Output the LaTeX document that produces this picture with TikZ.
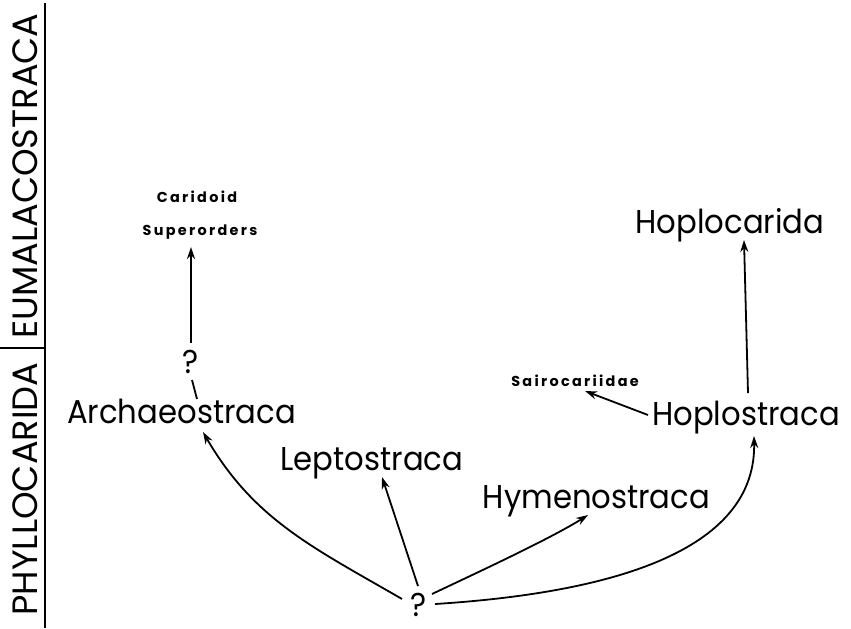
\documentclass[tikz,border=0pt]{standalone}
\usepackage{fontspec}
\setmainfont{Poppins}
\newfontfamily\taxonfont[FakeStretch=0.93]{Poppins}
\newfontfamily\spacedfont[LetterSpace=16]{Poppins}
\usetikzlibrary{arrows.meta,calc}

\begin{document}
\begin{tikzpicture}[x=0.5pt, y=-0.5pt,
        taxon/.style={inner sep=0pt, anchor=base, font=\taxonfont\fontsize{16.5}{18}\selectfont},
        minor/.style={inner sep=0pt, anchor=base, font=\spacedfont\bfseries\fontsize{7.2}{8}\selectfont},
        grade/.style={inner sep=0pt, anchor=base, rotate=90, font=\fontsize{17.6}{18}\selectfont},
        arrow/.style={-{Stealth[length=6pt,width=4pt]}, line width=0.9pt},
        link/.style={line width=0.9pt}
    ]
    \useasboundingbox (0,0) rectangle (851,628);

    % grades along the left edge
    \node[grade] (phyllo) at (37,489) {PHYLLOCARIDA};
    \node[grade] (eumala) at (37,176) {EUMALACOSTRACA};
    \draw[link] (45,3) -- (45,628);
    \draw[link] (0,348) -- (45,348);

    \node[minor] (caridoid) at (197,202) {Caridoid};
    \node[minor] (superorders) at (200,235) {Superorders};
    \node[taxon] (qtop) at (191,373) {?};
    \node[taxon] (archaeo) at (181.5,423) {Archaeostraca};
    \node[taxon] (lepto) at (372,470) {Leptostraca};
    \node[taxon] (hymeno) at (596.5,508) {Hymenostraca};
    \node[taxon] (hoplostraca) at (746,425) {Hoplostraca};
    \node[taxon] (hoplocarida) at (730,233) {Hoplocarida};
    \node[minor] (sairo) at (575,386) {Sairocariidae};
    \node[taxon] (root) at (419,616) {?};

    \draw[arrow] ($(root.base)+(-17,-17)$) .. controls +(-88,-51) and +(51,88) .. ($(archaeo.base)+(21.5,9)$);
    \draw[arrow] ($(root.base)+(-1,-30)$) -- ($(lepto.base)+(10,7)$);
    \draw[arrow] ($(root.base)+(13,-22)$) .. controls +(40,-19) and +(-38,24) .. ($(hymeno.base)+(-8.5,7)$);
    \draw[arrow] ($(root.base)+(16,-12)$) .. controls +(205,-13) and +(2,104) .. ($(hoplostraca.base)+(8,11)$);
    \draw[arrow] ($(hoplostraca.base)+(2,-32)$) -- ($(hoplocarida.base)+(14,7)$);
    \draw[arrow] ($(hoplostraca.base)+(-98,-10)$) -- ($(sairo.base)+(10,5)$);
    \draw[link] ($(qtop.base)+(1,7)$) -- ($(archaeo.base)+(15.5,-24)$);
    \draw[arrow] ($(qtop.base)+(0,-30)$) -- ($(superorders.base)+(-9,12)$);
\end{tikzpicture}
\end{document}
